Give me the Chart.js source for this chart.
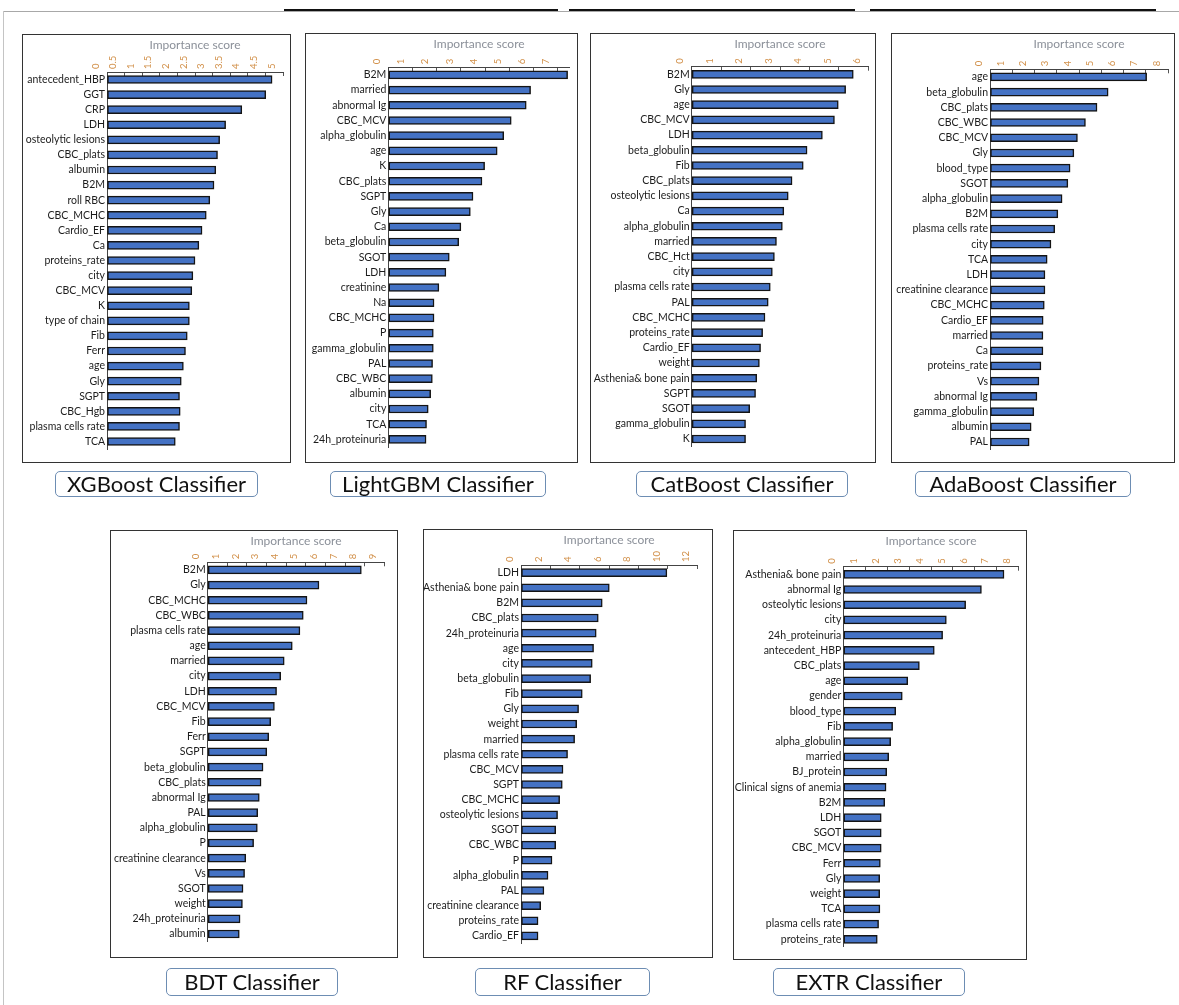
<!DOCTYPE html>
<html>
<head>
<meta charset="utf-8">
<script src="https://cdn.jsdelivr.net/npm/chart.js@4.4.1/dist/chart.umd.min.js"></script>
<style>
  body { margin: 0; background: #fff; width: 1179px; height: 1005px; position: relative; overflow: hidden; }
  canvas { position: absolute; }
  .frame { position: absolute; box-sizing: border-box; border: 1.5px solid #333; pointer-events: none; }
  .cap { position: absolute; box-sizing: border-box; border: 1.5px solid #6d8db3; border-radius: 5px;
         background: #fff; color: #111; text-align: center; white-space: nowrap;
         font-family: Lato, sans-serif; font-size: 22px; }
  .rule { position: absolute; }
</style>
</head>
<body>
<script>
// feature importance per classifier (top 25 features each)
const xgbFeatures = ['antecedent_HBP', 'GGT', 'CRP', 'LDH', 'osteolytic lesions', 'CBC_plats', 'albumin', 'B2M', 'roll RBC', 'CBC_MCHC', 'Cardio_EF', 'Ca', 'proteins_rate', 'city', 'CBC_MCV', 'K', 'type of chain', 'Fib', 'Ferr', 'age', 'Gly', 'SGPT', 'CBC_Hgb', 'plasma cells rate', 'TCA'];
const xgbScores = [4.69, 4.51, 3.83, 3.37, 3.20, 3.14, 3.09, 3.04, 2.92, 2.82, 2.70, 2.61, 2.50, 2.44, 2.41, 2.34, 2.34, 2.28, 2.23, 2.17, 2.11, 2.06, 2.08, 2.06, 1.94];

const lgbmFeatures = ['B2M', 'married', 'abnormal Ig', 'CBC_MCV', 'alpha_globulin', 'age', 'K', 'CBC_plats', 'SGPT', 'Gly', 'Ca', 'beta_globulin', 'SGOT', 'LDH', 'creatinine', 'Na', 'CBC_MCHC', 'P', 'gamma_globulin', 'PAL', 'CBC_WBC', 'albumin', 'city', 'TCA', '24h_proteinuria'];
const lgbmScores = [7.41, 5.88, 5.70, 5.08, 4.77, 4.50, 3.98, 3.87, 3.50, 3.39, 3.00, 2.91, 2.52, 2.38, 2.09, 1.89, 1.89, 1.86, 1.86, 1.83, 1.82, 1.75, 1.65, 1.58, 1.56];

const catFeatures = ['B2M', 'Gly', 'age', 'CBC_MCV', 'LDH', 'beta_globulin', 'Fib', 'CBC_plats', 'osteolytic lesions', 'Ca', 'alpha_globulin', 'married', 'CBC_Hct', 'city', 'plasma cells rate', 'PAL', 'CBC_MCHC', 'proteins_rate', 'Cardio_EF', 'weight', 'Asthenia& bone pain', 'SGPT', 'SGOT', 'gamma_globulin', 'K'];
const catScores = [5.49, 5.23, 4.98, 4.85, 4.44, 3.92, 3.79, 3.41, 3.28, 3.13, 3.08, 2.88, 2.81, 2.74, 2.67, 2.60, 2.49, 2.41, 2.34, 2.30, 2.21, 2.17, 1.97, 1.83, 1.83];

const adaFeatures = ['age', 'beta_globulin', 'CBC_plats', 'CBC_WBC', 'CBC_MCV', 'Gly', 'blood_type', 'SGOT', 'alpha_globulin', 'B2M', 'plasma cells rate', 'city', 'TCA', 'LDH', 'creatinine clearance', 'CBC_MCHC', 'Cardio_EF', 'married', 'Ca', 'proteins_rate', 'Vs', 'abnormal Ig', 'gamma_globulin', 'albumin', 'PAL'];
const adaScores = [7.04, 5.31, 4.81, 4.29, 3.93, 3.77, 3.60, 3.50, 3.24, 3.05, 2.91, 2.74, 2.57, 2.47, 2.47, 2.44, 2.39, 2.38, 2.38, 2.29, 2.20, 2.11, 1.97, 1.85, 1.76];

const bdtFeatures = ['B2M', 'Gly', 'CBC_MCHC', 'CBC_WBC', 'plasma cells rate', 'age', 'married', 'city', 'LDH', 'CBC_MCV', 'Fib', 'Ferr', 'SGPT', 'beta_globulin', 'CBC_plats', 'abnormal Ig', 'PAL', 'alpha_globulin', 'P', 'creatinine clearance', 'Vs', 'SGOT', 'weight', '24h_proteinuria', 'albumin'];
const bdtScores = [7.83, 5.67, 5.06, 4.87, 4.70, 4.31, 3.90, 3.72, 3.51, 3.40, 3.21, 3.11, 3.01, 2.82, 2.72, 2.63, 2.55, 2.53, 2.34, 1.94, 1.88, 1.80, 1.77, 1.65, 1.61];

const rfFeatures = ['LDH', 'Asthenia& bone pain', 'B2M', 'CBC_plats', '24h_proteinuria', 'age', 'city', 'beta_globulin', 'Fib', 'Gly', 'weight', 'married', 'plasma cells rate', 'CBC_MCV', 'SGPT', 'CBC_MCHC', 'osteolytic lesions', 'SGOT', 'CBC_WBC', 'P', 'alpha_globulin', 'PAL', 'creatinine clearance', 'proteins_rate', 'Cardio_EF'];
const rfScores = [9.93, 6.01, 5.53, 5.26, 5.12, 4.94, 4.85, 4.74, 4.17, 3.92, 3.79, 3.65, 3.17, 2.86, 2.81, 2.63, 2.49, 2.36, 2.36, 2.11, 1.84, 1.56, 1.34, 1.16, 1.16];

const extrFeatures = ['Asthenia& bone pain', 'abnormal Ig', 'osteolytic lesions', 'city', '24h_proteinuria', 'antecedent_HBP', 'CBC_plats', 'age', 'gender', 'blood_type', 'Fib', 'alpha_globulin', 'married', 'BJ_protein', 'Clinical signs of anemia', 'B2M', 'LDH', 'SGOT', 'CBC_MCV', 'Ferr', 'Gly', 'weight', 'TCA', 'plasma cells rate', 'proteins_rate'];
const extrScores = [7.33, 6.30, 5.58, 4.70, 4.53, 4.15, 3.47, 2.94, 2.69, 2.39, 2.25, 2.16, 2.07, 1.98, 1.95, 1.89, 1.73, 1.73, 1.73, 1.69, 1.66, 1.66, 1.67, 1.61, 1.55];

// x axis range and tick step of each panel
const axisMax = [5, 7.5, 6, 8, 9, 12, 8];
const axisStep = [0.5, 1, 1, 1, 1, 2, 1];
const classifierNames = ['XGBoost Classifier', 'LightGBM Classifier', 'CatBoost Classifier', 'AdaBoost Classifier', 'BDT Classifier', 'RF Classifier', 'EXTR Classifier'];

// page placement: box = [left, top, width, height], plot = [x of 0, x of max, axis y, plot bottom], cap = [left, top, width, height]
const layout = [
  { box: [22, 34, 269, 429],  plot: [107, 283, 72, 449],     cap: [55, 471, 203, 26] },
  { box: [305, 33, 273, 430], plot: [388.3, 569.8, 67.3, 447], cap: [330, 471, 216, 26] },
  { box: [590, 33, 286, 430], plot: [691.7, 868.3, 66.7, 446.6], cap: [636, 471, 212, 26] },
  { box: [891, 33, 284, 430], plot: [990, 1168.3, 69.3, 449.6], cap: [915, 471, 216, 26] },
  { box: [110, 530, 288, 428], plot: [207.7, 384.3, 562.3, 941.6], cap: [166, 968, 172, 28] },
  { box: [423, 529, 290, 429], plot: [521, 697.3, 565, 943.5], cap: [475, 968, 175, 28] },
  { box: [733, 530, 294, 430], plot: [843.3, 1018.7, 566.7, 946.9], cap: [773, 968, 192, 28] }
];

const featureSets = [xgbFeatures, lgbmFeatures, catFeatures, adaFeatures, bdtFeatures, rfFeatures, extrFeatures];
const scoreSets = [xgbScores, lgbmScores, catScores, adaScores, bdtScores, rfScores, extrScores];

function addRule(left, top, width, height, color) {
  const d = document.createElement('div');
  d.className = 'rule';
  Object.assign(d.style, { left: left + 'px', top: top + 'px', width: width + 'px', height: height + 'px', background: color });
  document.body.appendChild(d);
}

// outer page frame
addRule(3, 11, 1176, 1, '#a8a8a8');
addRule(3, 11, 1, 994, '#c4c4c4');
addRule(284, 9, 274, 2, '#111');
addRule(569, 9, 286, 2, '#111');
addRule(870, 9, 286, 2, '#111');

function drawPanel(i) {
  const [bx, by, bw, bh] = layout[i].box;
  const [x0, x1, ay, yb] = layout[i].plot;

  const canvas = document.createElement('canvas');
  canvas.width = bw;
  canvas.height = bh;
  canvas.style.left = bx + 'px';
  canvas.style.top = by + 'px';
  document.body.appendChild(canvas);

  const frame = document.createElement('div');
  frame.className = 'frame';
  Object.assign(frame.style, { left: bx + 'px', top: by + 'px', width: bw + 'px', height: bh + 'px' });
  document.body.appendChild(frame);

  const [cx, cy, cw, ch] = layout[i].cap;
  const cap = document.createElement('div');
  cap.className = 'cap';
  cap.textContent = classifierNames[i];
  Object.assign(cap.style, { left: cx + 'px', top: cy + 'px', width: cw + 'px', height: ch + 'px', lineHeight: (ch - 3) + 'px' });
  document.body.appendChild(cap);

  new Chart(canvas, {
    type: 'bar',
    data: {
      labels: featureSets[i],
      datasets: [{
        data: scoreSets[i],
        backgroundColor: '#4472c4',
        borderColor: '#141414',
        borderWidth: 1.5,
        borderSkipped: false,
        barThickness: 8
      }]
    },
    options: {
      indexAxis: 'y',
      responsive: false,
      animation: false,
      devicePixelRatio: 1,
      layout: { padding: { left: 0, top: 0, right: bw - (x1 - bx), bottom: bh - (yb - by) } },
      plugins: { legend: { display: false }, tooltip: { enabled: false } },
      scales: {
        x: {
          position: 'top',
          min: 0,
          max: axisMax[i],
          afterFit: s => { s.height = ay - by; },
          title: {
            display: true,
            text: 'Importance score',
            color: '#8b9099',
            font: { family: 'Lato, sans-serif', size: 12 },
            padding: { top: 4, bottom: 0 }
          },
          ticks: {
            stepSize: axisStep[i],
            includeBounds: false,
            autoSkip: false,
            minRotation: 90,
            maxRotation: 90,
            padding: 7,
            color: '#d2914b',
            font: { family: 'Lato, sans-serif', size: 9.5 },
            callback: v => String(v)
          },
          grid: { drawOnChartArea: false, tickLength: -4, color: '#555' },
          border: { color: '#444', width: 1 }
        },
        y: {
          afterFit: s => { s.width = x0 - bx; },
          ticks: { autoSkip: false, padding: 2, color: '#1c1c1c', font: { family: 'Lato, sans-serif', size: 10.5 } },
          grid: { display: false, drawTicks: false },
          border: { color: '#444', width: 1 }
        }
      }
    }
  });
}

for (let i = 0; i < classifierNames.length; i++) drawPanel(i);
</script>
</body>
</html>
